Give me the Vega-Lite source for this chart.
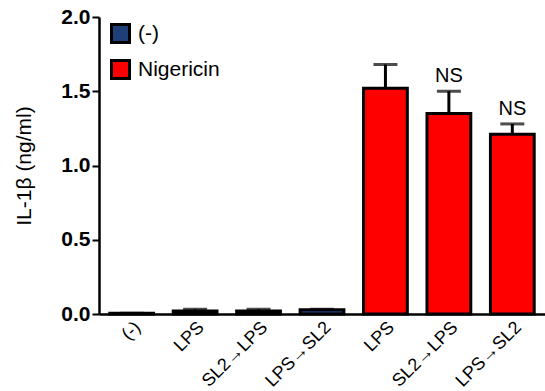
{
  "$schema": "https://vega.github.io/schema/vega-lite/v6.json",
  "width": 446,
  "height": 297,
  "autosize": "none",
  "padding": {"left": 99, "top": 17, "right": 0, "bottom": 77},
  "background": "white",
  "config": {
    "font": "Liberation Sans",
    "view": {"stroke": null}
  },
  "data": {
    "values": [
      {"id": "g1", "label": "(-)", "treatment": "(-)", "value": 0.005, "err": 0.0, "ns": ""},
      {"id": "g2", "label": "LPS", "treatment": "(-)", "value": 0.02, "err": 0.012, "ns": ""},
      {"id": "g3", "label": "SL2→LPS", "treatment": "(-)", "value": 0.02, "err": 0.012, "ns": ""},
      {"id": "g4", "label": "LPS→SL2", "treatment": "(-)", "value": 0.028, "err": 0.004, "ns": ""},
      {"id": "g5", "label": "LPS", "treatment": "Nigericin", "value": 1.52, "err": 0.16, "ns": ""},
      {"id": "g6", "label": "SL2→LPS", "treatment": "Nigericin", "value": 1.35, "err": 0.15, "ns": "NS"},
      {"id": "g7", "label": "LPS→SL2", "treatment": "Nigericin", "value": 1.21, "err": 0.07, "ns": "NS"}
    ]
  },
  "transform": [{"calculate": "datum.value + datum.err", "as": "hi"}],
  "encoding": {
    "x": {
      "field": "id",
      "type": "nominal",
      "sort": null,
      "scale": {"paddingInner": 0.31, "paddingOuter": 0.17},
      "axis": {
        "title": null,
        "labelExpr": "{'g1':'(-)','g2':'LPS','g3':'SL2→LPS','g4':'LPS→SL2','g5':'LPS','g6':'SL2→LPS','g7':'LPS→SL2'}[datum.value]",
        "labelAngle": -45,
        "labelFontSize": 18,
        "labelColor": "black",
        "labelPadding": 4,
        "ticks": false,
        "domainColor": "black",
        "domainWidth": 2.5
      }
    }
  },
  "layer": [
    {
      "mark": {"type": "rule", "stroke": "black", "strokeWidth": 3},
      "encoding": {
        "y": {"field": "value", "type": "quantitative"},
        "y2": {"field": "hi"}
      }
    },
    {
      "mark": {"type": "tick", "color": "black", "thickness": 3, "size": 24, "orient": "horizontal"},
      "encoding": {
        "y": {"field": "hi", "type": "quantitative"}
      }
    },
    {
      "mark": {"type": "bar", "stroke": "black", "strokeWidth": 3, "strokeJoin": "miter"},
      "encoding": {
        "y": {
          "field": "value",
          "type": "quantitative",
          "scale": {"domain": [0, 2], "nice": false},
          "axis": {
            "title": "IL-1β (ng/ml)",
            "titleFont": "Liberation Sans",
            "titleFontSize": 21,
            "titleFontWeight": "normal",
            "titleColor": "black",
            "titlePadding": 26,
            "values": [0, 0.5, 1, 1.5, 2],
            "format": ".1f",
            "labelFontSize": 21,
            "labelFontWeight": "bold",
            "labelColor": "black",
            "labelPadding": 2,
            "tickSize": 7,
            "tickWidth": 2,
            "tickColor": "black",
            "domainColor": "black",
            "domainWidth": 2.5,
            "grid": false
          }
        },
        "fill": {
          "field": "treatment",
          "type": "nominal",
          "scale": {"domain": ["(-)", "Nigericin"], "range": ["#1f3f78", "#ff0000"]},
          "legend": {
            "title": null,
            "orient": "none",
            "legendX": 11,
            "legendY": 6,
            "symbolType": "square",
            "symbolSize": 324,
            "symbolStrokeColor": "black",
            "symbolStrokeWidth": 3,
            "symbolOpacity": 1,
            "labelFontSize": 21,
            "labelColor": "black",
            "labelOffset": 7,
            "rowPadding": 5
          }
        }
      }
    },
    {
      "mark": {"type": "text", "fontSize": 20, "dy": -9, "baseline": "alphabetic", "color": "black"},
      "encoding": {
        "y": {"field": "hi", "type": "quantitative"},
        "text": {"field": "ns"}
      }
    }
  ]
}
